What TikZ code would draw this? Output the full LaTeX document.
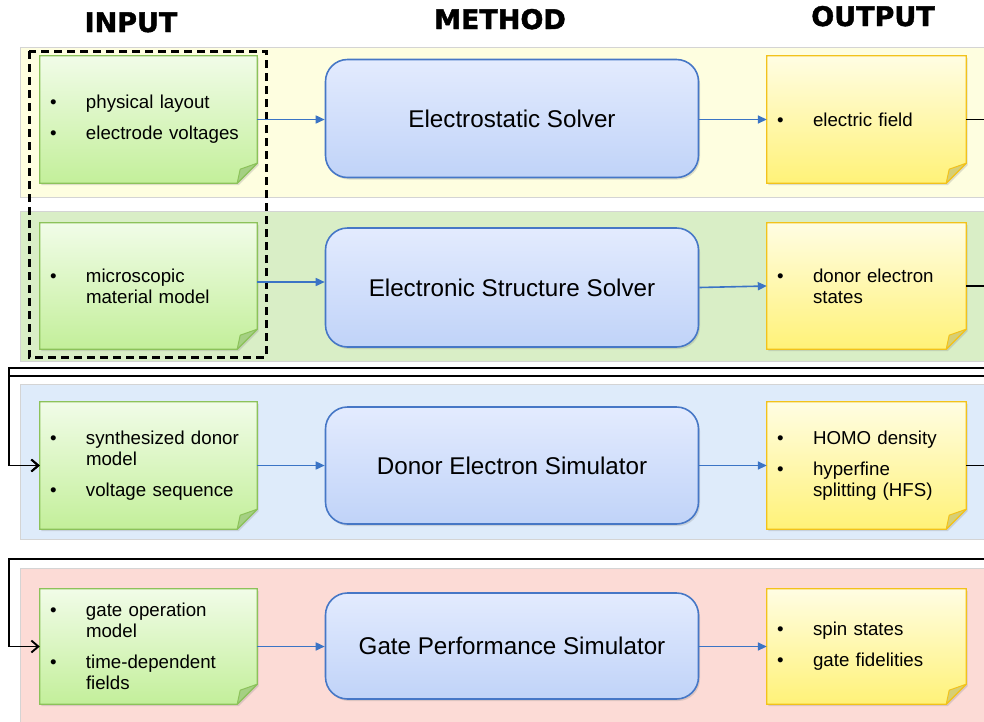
\documentclass[tikz,border=0pt]{standalone}
\usepackage{fontspec}
\setmainfont{Liberation Sans}
\newfontfamily\headfont{DejaVu Sans Bold}[FakeBold=1.6]
\usetikzlibrary{arrows.meta,shadows}

\pgfdeclarelayer{bands}
\pgfdeclarelayer{cards}
\pgfsetlayers{bands,cards,main}

\definecolor{bandyellow}{HTML}{FEFEE0}
\definecolor{bandgreen}{HTML}{D9EEC6}
\definecolor{bandblue}{HTML}{DEEBFA}
\definecolor{bandred}{HTML}{FCDBD6}
\definecolor{bandline}{HTML}{D4D4D4}
\definecolor{ingreentop}{HTML}{F1FCE8}
\definecolor{ingreenbot}{HTML}{C3EF9A}
\definecolor{ingreenline}{HTML}{8CC25A}
\definecolor{ingreenfold}{HTML}{A5D083}
\definecolor{outyellowtop}{HTML}{FFFDE3}
\definecolor{outyellowbot}{HTML}{FFF278}
\definecolor{outyellowline}{HTML}{F2C21B}
\definecolor{outyellowfold}{HTML}{D7CF74}
\definecolor{solvertop}{HTML}{E3EBFE}
\definecolor{solverbot}{HTML}{C0D3F8}
\definecolor{solverline}{HTML}{4677C6}
\definecolor{flowblue}{HTML}{3B74C5}

\newcommand\bul{\makebox[36pt][l]{\textbullet}}
\newcommand\hang{\hspace*{36pt}}
\newcommand\itemgap{\\[10pt]}

% card outline with the folded corner, drawn under the text node
\newcommand\foldcard[5]{%
  \path[drop shadow={shadow xshift=1.5pt,shadow yshift=-2pt,opacity=.25},
        top color=#2, bottom color=#3, draw=#4, line width=1.3pt]
    (#1.north west) -- (#1.north east) -- ([yshift=20pt]#1.south east)
    -- ([xshift=-20pt]#1.south east) -- (#1.south west) -- cycle;
  \filldraw[fill=#5, draw=#4, line width=1pt, line join=round]
    ([yshift=20pt]#1.south east) -- ([xshift=-17pt,yshift=14pt]#1.south east)
    -- ([xshift=-20pt]#1.south east) -- cycle;
}

\begin{document}
\begin{tikzpicture}[x=1pt,y=-1pt,
	band/.style={draw=bandline, line width=.8pt},
	title/.style={anchor=base, font=\headfont\fontsize{27}{30}\selectfont},
	incard/.style={text width=197pt, inner xsep=10pt, inner ysep=0pt, minimum height=127pt,
		align=left, font=\fontsize{18.7}{21}\selectfont},
	outcard/.style={incard, text width=179pt},
	solver/.style={rounded corners=22pt, minimum width=373pt, minimum height=118pt,
		top color=solvertop, bottom color=solverbot, draw=solverline, line width=1.6pt,
		drop shadow={shadow xshift=1.5pt,shadow yshift=-2pt,opacity=.25},
		font=\fontsize{24.2}{28}\selectfont},
	flow/.style={draw=flowblue, line width=1.6pt, -{Triangle[length=9pt,width=8pt]}},
	feed/.style={draw=black, line width=1.9pt, -{Straight Barb[length=7pt,width=12pt]}},
	groupbox/.style={draw=black, line width=3pt, dash pattern=on 8pt off 5pt}]

	\useasboundingbox (0,0) rectangle (984,721);
	\clip (0,0) rectangle (984,721);

	\begin{pgfonlayer}{bands}
		\fill[white] (0,0) rectangle (984,721);
		\filldraw[band, fill=bandyellow] (20,47) rectangle (995,197);
		\filldraw[band, fill=bandgreen] (20,211) rectangle (995,361);
		\filldraw[band, fill=bandblue] (20,384) rectangle (995,539);
		\filldraw[band, fill=bandred] (20,568) rectangle (995,730);
	\end{pgfonlayer}

	\node[title] (hin) at (131,32) {INPUT};
	\node[title] (hmeth) at (500,29) {METHOD};
	\node[title] (hout) at (873,26) {OUTPUT};

	% inputs
	\node[incard] (in1) at (148.5,119.5) {\bul physical layout\itemgap\bul electrode voltages};
	\node[incard, minimum height=126pt] (in2) at (148.5,286) {\bul microscopic\\\hang material model};
	\node[incard] (in3) at (148.5,465.5) {\bul synthesized donor\\\hang model\itemgap\bul voltage sequence};
	\node[incard, minimum height=115pt] (in4) at (148.5,646.5) {\bul gate operation\\\hang model\itemgap\bul time-dependent\\\hang fields};

	% methods
	\node[solver] (m1) at (512,118.5) {Electrostatic Solver};
	\node[solver, minimum height=119pt] (m2) at (512,287.5) {Electronic Structure Solver};
	\node[solver, minimum height=117pt] (m3) at (512,465.5) {Donor Electron Simulator};
	\node[solver, minimum height=106pt] (m4) at (512,646) {Gate Performance Simulator};

	% outputs
	\node[outcard] (out1) at (866.5,119.5) {\bul electric field};
	\node[outcard, minimum height=126pt] (out2) at (866.5,286) {\bul donor electron\\\hang states};
	\node[outcard] (out3) at (866.5,465.5) {\bul HOMO density\itemgap\bul hyperfine\\\hang splitting (HFS)};
	\node[outcard, minimum height=115pt] (out4) at (866.5,646.5) {\bul spin states\itemgap\bul gate fidelities};

	\begin{pgfonlayer}{cards}
		\foreach \n in {in1,in2,in3,in4}
			{\foldcard{\n}{ingreentop}{ingreenbot}{ingreenline}{ingreenfold}}
		\foreach \n in {out1,out2,out3,out4}
			{\foldcard{\n}{outyellowtop}{outyellowbot}{outyellowline}{outyellowfold}}
	\end{pgfonlayer}

	\draw[groupbox] (29,51) rectangle (266,357);

	\draw[flow] (in1.east) -- (in1.east -| m1.west);
	\draw[flow] ([yshift=4pt]in2.east) -- ([yshift=4pt]in2.east -| m2.west);
	\draw[flow] (in3.east) -- (in3.east -| m3.west);
	\draw[flow] (in4.east) -- (in4.east -| m4.west);
	\draw[flow] (m1.east |- out1.west) -- (out1.west);
	\draw[flow] (m2.east) -- (out2.west);
	\draw[flow] (m3.east |- out3.west) -- (out3.west);
	\draw[flow] (m4.east |- out4.west) -- (out4.west);

	% outputs fed back to the next row
	\coordinate (r1) at (1000,368);
	\coordinate (l1) at (9,368);
	\coordinate (r2) at (995,376);
	\coordinate (l2) at (9,376);
	\coordinate (r3) at (1000,559);
	\coordinate (l3) at (9,559);
	\draw[feed] (out1.east) -| (r1) -- (l1) |- (in3.west);
	\draw[feed] (out2.east) -| (r2) -- (l2) |- (in3.west);
	\draw[feed] (out3.east) -| (r3) -- (l3) |- (in4.west);
\end{tikzpicture}
\end{document}
